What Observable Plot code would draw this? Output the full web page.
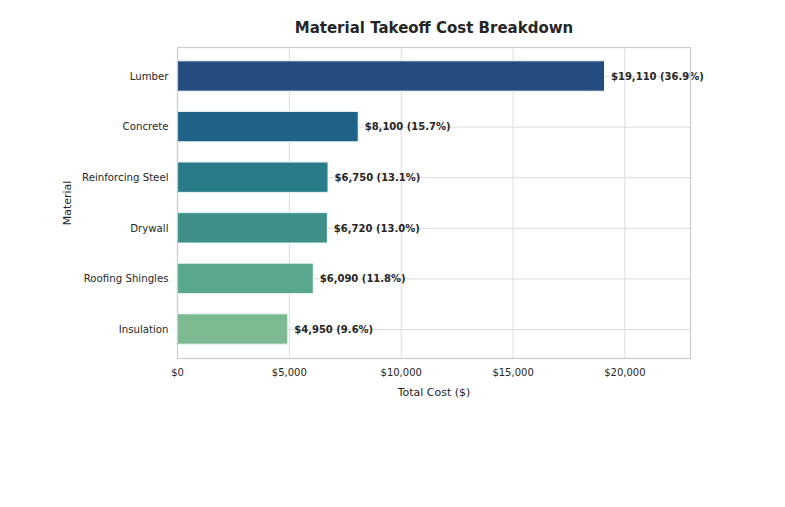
<!DOCTYPE html>
<html>
<head>
<meta charset="utf-8">
<script src="https://cdn.jsdelivr.net/npm/d3@7"></script>
<script src="https://cdn.jsdelivr.net/npm/@observablehq/plot@0.6"></script>
<style>
  html, body { margin: 0; padding: 0; background: #fff; }
  #chart { width: 785px; height: 507px; }
</style>
</head>
<body>
<div id="chart"></div>
<script>
const materials = ["Lumber", "Concrete", "Reinforcing Steel", "Drywall", "Roofing Shingles", "Insulation"];
const costs = [19110, 8100, 6750, 6720, 6090, 4950];
const colors = ["#254c7e", "#1f6488", "#2a7b8a", "#3f8f89", "#5aa78f", "#7dba91"];
const xTicks = [0, 5000, 10000, 15000, 20000];

const total = d3.sum(costs);
const data = materials.map((m, i) => ({
  material: m,
  cost: costs[i],
  color: colors[i],
  label: "$" + d3.format(",")(costs[i]) + " (" + (costs[i] / total * 100).toFixed(1) + "%)"
}));

const font = "DejaVu Sans, sans-serif";
const chart = Plot.plot({
  width: 785,
  height: 507,
  marginLeft: 177,
  marginRight: 95,
  marginTop: 47,
  marginBottom: 149,
  style: { fontFamily: font, fontSize: "10px", color: "#333", background: "#fff" },
  x: { domain: [0, d3.max(costs) * 1.2], ticks: xTicks, tickFormat: d => "$" + d3.format(",")(d), label: null },
  y: { domain: materials, paddingInner: 0.4, paddingOuter: 0.273, round: false, label: null },
  marks: [
    Plot.gridX(xTicks, { stroke: "#dcdcdc", strokeOpacity: 1, strokeWidth: 1 }),
    Plot.gridY(materials, { stroke: "#dcdcdc", strokeOpacity: 1, strokeWidth: 1 }),
    Plot.barX(data, { x: "cost", y: "material", fill: "color", stroke: "#eaf4f4", strokeWidth: 1 }),
    Plot.text(data, { x: "cost", y: "material", text: "label", textAnchor: "start", dx: 6, fontWeight: "bold", fontSize: 10, fill: "#262626" }),
    Plot.frame({ stroke: "#cccccc", strokeWidth: 1.2 }),
    Plot.axisX(xTicks, { tickSize: 0, tickPadding: 10, fontSize: 10, fill: "#262626", label: null, tickFormat: d => "$" + d3.format(",")(d) }),
    Plot.axisY(materials, { tickSize: 0, tickPadding: 9, fontSize: 10.2, fill: "#262626", label: null }),
    Plot.text(["Total Cost ($)"], { frameAnchor: "bottom", dy: 37, fontSize: 11, fill: "#262626" }),
    Plot.text(["Material"], { frameAnchor: "left", textAnchor: "middle", dx: -110, rotate: -90, fontSize: 11, fill: "#262626" }),
    Plot.text(["Material Takeoff Cost Breakdown"], { frameAnchor: "top", dy: -25, fontSize: 15, fontWeight: "bold", fill: "#262626" })
  ]
});
document.getElementById("chart").appendChild(chart);
</script>
</body>
</html>
